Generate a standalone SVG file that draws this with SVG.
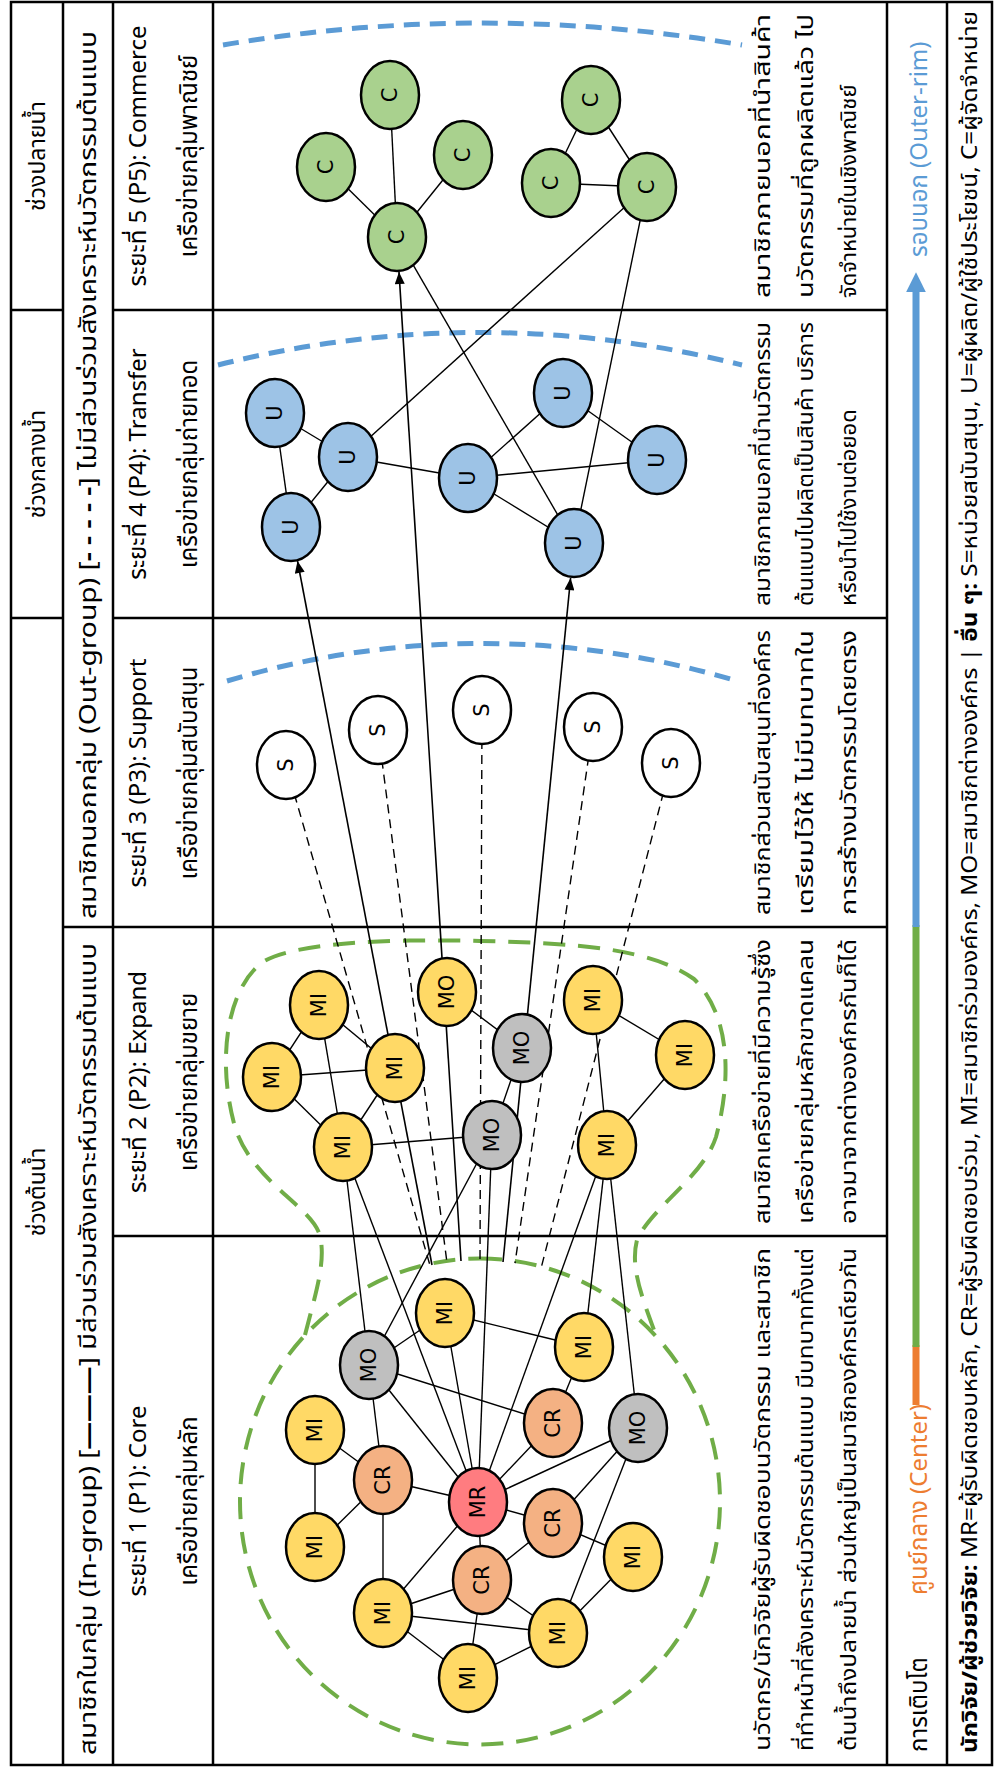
<svg xmlns="http://www.w3.org/2000/svg" width="994" height="1767" viewBox="0 0 994 1767">
<style>
.th{font-family:'Noto Sans Thai','Noto Sans Thai UI','Noto Serif Thai',Tahoma,'Leelawadee UI',Loma,Garuda,'DejaVu Sans',sans-serif;fill:#000}
.hd{font-size:23px}
.gr{font-size:24px}
.ttl{font-size:24px;text-anchor:middle}
.ds{font-size:22px}
.ft{font-size:22px}
.grid{stroke:#000;stroke-width:2.5;fill:none}
.e{stroke:#000;stroke-width:1.4;fill:none}
.ed{stroke:#000;stroke-width:1.4;fill:none;stroke-dasharray:9 6}
.ar{stroke:#000;stroke-width:1.6;fill:none;marker-end:url(#ah)}
.nd ellipse{stroke:#000;stroke-width:2.5}
.nd text{font-family:'DejaVu Sans','Liberation Sans',sans-serif;font-size:21px;text-anchor:middle;dominant-baseline:central;fill:#000}
.mi{fill:#FFD966}.mo{fill:#BFBFBF}.cr{fill:#F4B183}.mr{fill:#FF7C80}.c{fill:#A9D18E}.u{fill:#9DC3E6}.s{fill:#FFFFFF}
.gd{stroke:#70AD47;stroke-width:4;fill:none;stroke-dasharray:22 13}
.bd{stroke:#5B9BD5;stroke-width:5;fill:none;stroke-dasharray:16 10}
</style>
<defs>
<marker id="ah" viewBox="0 0 12 10" refX="12" refY="5" markerWidth="14" markerHeight="10" markerUnits="userSpaceOnUse" orient="auto"><path d="M0,0 L12,5 L0,10 z" fill="#000"/></marker>
<marker id="bah" viewBox="0 0 12 12" refX="2" refY="6" markerWidth="20" markerHeight="20" markerUnits="userSpaceOnUse" orient="auto"><path d="M0,0 L12,6 L0,12 z" fill="#5B9BD5"/></marker>
</defs>
<rect width="994" height="1767" fill="#fff"/>
<g transform="translate(0,1767) rotate(-90)">
<g id="table">
<rect class="grid" x="2" y="11" width="1763" height="981"/>
<line class="grid" x1="2" y1="63" x2="1765" y2="63"/>
<line class="grid" x1="2" y1="113" x2="1765" y2="113"/>
<line class="grid" x1="2" y1="213" x2="1765" y2="213"/>
<line class="grid" x1="2" y1="887" x2="1765" y2="887"/>
<line class="grid" x1="2" y1="947" x2="1765" y2="947"/>
<line class="grid" x1="1457" y1="11" x2="1457" y2="63"/>
<line class="grid" x1="1149" y1="11" x2="1149" y2="63"/>
<line class="grid" x1="840" y1="63" x2="840" y2="113"/>
<line class="grid" x1="1457" y1="113" x2="1457" y2="887"/>
<line class="grid" x1="1149" y1="113" x2="1149" y2="887"/>
<line class="grid" x1="840" y1="113" x2="840" y2="887"/>
<line class="grid" x1="531" y1="113" x2="531" y2="887"/>
</g>
<g id="headers">
<text class="th hd" x="575" y="45" text-anchor="middle">ช่วงต้นน้ำ</text>
<text class="th hd" x="1303" y="45" text-anchor="middle">ช่วงกลางน้ำ</text>
<text class="th hd" x="1611" y="45" text-anchor="middle">ช่วงปลายน้ำ</text>
<text class="th hd" x="12" y="96" textLength="812" lengthAdjust="spacingAndGlyphs">สมาชิกในกลุ่ม (In-group) [<tspan font-weight="bold">———</tspan>] มีส่วนร่วมสังเคราะห์นวัตกรรมต้นแบบ</text>
<text class="th hd" x="848" y="96" textLength="888" lengthAdjust="spacingAndGlyphs">สมาชิกนอกกลุ่ม (Out-group) [<tspan font-weight="bold">- - - - -</tspan>] ไม่มีส่วนร่วมสังเคราะห์นวัตกรรมต้นแบบ</text>
</g>
<g id="titles">
<text class="th ttl" x="266" y="146">ระยะที่ 1 (P1): Core</text>
<text class="th ttl" x="266" y="197">เครือข่ายกลุ่มหลัก</text>
<text class="th ttl" x="685" y="146">ระยะที่ 2 (P2): Expand</text>
<text class="th ttl" x="685" y="197">เครือข่ายกลุ่มขยาย</text>
<text class="th ttl" x="994" y="146">ระยะที่ 3 (P3): Support</text>
<text class="th ttl" x="994" y="197">เครือข่ายกลุ่มสนับสนุน</text>
<text class="th ttl" x="1303" y="146">ระยะที่ 4 (P4): Transfer</text>
<text class="th ttl" x="1303" y="197">เครือข่ายกลุ่มถ่ายทอด</text>
<text class="th ttl" x="1611" y="146">ระยะที่ 5 (P5): Commerce</text>
<text class="th ttl" x="1611" y="197">เครือข่ายกลุ่มพาณิชย์</text>
</g>
<g id="descriptions">
<text class="th ds" x="16" y="770" textLength="503" lengthAdjust="spacingAndGlyphs">นวัตกร/นักวิจัยผู้รับผิดชอบนวัตกรรม และสมาชิก</text>
<text class="th ds" x="16" y="813" textLength="503" lengthAdjust="spacingAndGlyphs">ที่ทำหน้าที่สังเคราะห์นวัตกรรมต้นแบบ มีบทบาททั้งแต่</text>
<text class="th ds" x="16" y="856" textLength="503" lengthAdjust="spacingAndGlyphs">ต้นน้ำถึงปลายน้ำ ส่วนใหญ่เป็นสมาชิกองค์กรเดียวกัน</text>
<text class="th ds" x="543" y="770" textLength="285" lengthAdjust="spacingAndGlyphs">สมาชิกเครือข่ายที่มีความรู้ซึ่ง</text>
<text class="th ds" x="543" y="813" textLength="285" lengthAdjust="spacingAndGlyphs">เครือข่ายกลุ่มหลักขาดแคลน</text>
<text class="th ds" x="543" y="856" textLength="285" lengthAdjust="spacingAndGlyphs">อาจมาจากต่างองค์กรกันก็ได้</text>
<text class="th ds" x="852" y="770" textLength="285" lengthAdjust="spacingAndGlyphs">สมาชิกส่วนสนับสนุนที่องค์กร</text>
<text class="th ds" x="852" y="813" textLength="285" lengthAdjust="spacingAndGlyphs">เตรียมไว้ให้ ไม่มีบทบาทใน</text>
<text class="th ds" x="852" y="856" textLength="285" lengthAdjust="spacingAndGlyphs">การสร้างนวัตกรรมโดยตรง</text>
<text class="th ds" x="1161" y="770" textLength="284" lengthAdjust="spacingAndGlyphs">สมาชิกภายนอกที่นำนวัตกรรม</text>
<text class="th ds" x="1161" y="813" textLength="284" lengthAdjust="spacingAndGlyphs">ต้นแบบไปผลิตเป็นสินค้า บริการ</text>
<text class="th ds" x="1161" y="856">หรือนำไปใช้งานต่อยอด</text>
<text class="th ds" x="1469" y="770" textLength="284" lengthAdjust="spacingAndGlyphs">สมาชิกภายนอกที่นำสินค้า</text>
<text class="th ds" x="1469" y="813" textLength="284" lengthAdjust="spacingAndGlyphs">นวัตกรรมที่ถูกผลิตแล้ว ไป</text>
<text class="th ds" x="1469" y="856">จัดจำหน่ายในเชิงพาณิชย์</text>
</g>
<g id="growth">
<text class="th gr" x="15" y="927">การเติบโต</text>
<text class="th gr" x="172" y="927" style="fill:#ED7D31">ศูนย์กลาง (Center)</text>
<line x1="362" y1="916" x2="422" y2="916" stroke="#ED7D31" stroke-width="7"/>
<line x1="420" y1="916" x2="842" y2="916" stroke="#70AD47" stroke-width="7"/>
<line x1="840" y1="916" x2="1478" y2="916" stroke="#5B9BD5" stroke-width="7" marker-end="url(#bah)"/>
<text class="th gr" x="1510" y="927" style="fill:#5B9BD5">รอบนอก (Outer-rim)</text>
</g>
<g id="footer">
<text class="th ft" x="14" y="977" textLength="1742" lengthAdjust="spacingAndGlyphs"><tspan font-weight="bold">นักวิจัย/ผู้ช่วยวิจัย:</tspan> MR=ผู้รับผิดชอบหลัก, CR=ผู้รับผิดชอบร่วม, MI=สมาชิกร่วมองค์กร, MO=สมาชิกต่างองค์กร | <tspan font-weight="bold">อื่น ๆ:</tspan> S=หน่วยสนับสนุน, U=ผู้ผลิต/ผู้ใช้ประโยชน์, C=ผู้จัดจำหน่าย</text>
</g>
<g id="boundaries">
<ellipse class="gd" cx="265.5" cy="480" rx="243" ry="240"/>
<path class="gd" d="M 432,305 C 475,316 505,326 531,320 C 560,313 585,252 640,235 C 700,218 772,224 803,260 C 826,290 828,400 826,480 C 824,580 818,652 788,694 C 752,730 690,732 630,716 C 590,703 560,652 527,637 C 500,630 470,642 437,654"/>
<path class="bd" d="M 1086,227 A 886 886 0 0 1 1086,737"/>
<path class="bd" d="M 1402,218 A 1072 1072 0 0 1 1402,742"/>
<path class="bd" d="M 1722,223 A 1547 1547 0 0 1 1722,742"/>
</g>
<g id="connectors">
<line class="e" x1="1530" y1="397" x2="1600" y2="326"/>
<line class="e" x1="1530" y1="397" x2="1672" y2="390"/>
<line class="e" x1="1530" y1="397" x2="1612" y2="463"/>
<line class="e" x1="1667" y1="591" x2="1584" y2="551"/>
<line class="e" x1="1667" y1="591" x2="1580" y2="647"/>
<line class="e" x1="1584" y1="551" x2="1580" y2="647"/>
<line class="e" x1="1530" y1="397" x2="1224" y2="574"/>
<line class="e" x1="1580" y1="647" x2="1224" y2="574"/>
<line class="e" x1="1580" y1="647" x2="1310" y2="348"/>
<line class="e" x1="1354" y1="275" x2="1310" y2="348"/>
<line class="e" x1="1354" y1="275" x2="1240" y2="291"/>
<line class="e" x1="1310" y1="348" x2="1240" y2="291"/>
<line class="e" x1="1310" y1="348" x2="1289" y2="468"/>
<line class="e" x1="1289" y1="468" x2="1374" y2="563"/>
<line class="e" x1="1289" y1="468" x2="1307" y2="657"/>
<line class="e" x1="1289" y1="468" x2="1224" y2="574"/>
<line class="e" x1="1374" y1="563" x2="1307" y2="657"/>
<line class="ar" x1="502" y1="432" x2="1206" y2="297.5"/>
<line class="ar" x1="506" y1="461" x2="1495" y2="399"/>
<line class="ar" x1="505" y1="503" x2="1189" y2="570.6"/>
<line class="ed" x1="1002" y1="286" x2="501.6" y2="430"/>
<line class="ed" x1="1037" y1="378" x2="504.2" y2="447"/>
<line class="ed" x1="1057" y1="482" x2="506.5" y2="480"/>
<line class="ed" x1="1040" y1="593" x2="503.8" y2="515"/>
<line class="ed" x1="1004" y1="671" x2="498.5" y2="541"/>
<line class="e" x1="762" y1="319" x2="690" y2="272"/>
<line class="e" x1="762" y1="319" x2="699" y2="395"/>
<line class="e" x1="762" y1="319" x2="620" y2="343"/>
<line class="e" x1="690" y1="272" x2="699" y2="395"/>
<line class="e" x1="690" y1="272" x2="620" y2="343"/>
<line class="e" x1="699" y1="395" x2="620" y2="343"/>
<line class="e" x1="620" y1="343" x2="632" y2="492"/>
<line class="e" x1="775" y1="447" x2="719" y2="522"/>
<line class="e" x1="719" y1="522" x2="632" y2="492"/>
<line class="e" x1="767" y1="593" x2="712" y2="685"/>
<line class="e" x1="712" y1="685" x2="622" y2="607"/>
<line class="e" x1="767" y1="593" x2="622" y2="607"/>
<line class="e" x1="620" y1="343" x2="402" y2="369"/>
<line class="e" x1="620" y1="343" x2="265" y2="478"/>
<line class="e" x1="632" y1="492" x2="402" y2="369"/>
<line class="e" x1="632" y1="492" x2="265" y2="478"/>
<line class="e" x1="622" y1="607" x2="265" y2="478"/>
<line class="e" x1="622" y1="607" x2="420" y2="584"/>
<line class="e" x1="622" y1="607" x2="339" y2="638"/>
<line class="e" x1="337" y1="315" x2="287" y2="383"/>
<line class="e" x1="337" y1="315" x2="220" y2="315"/>
<line class="e" x1="220" y1="315" x2="287" y2="383"/>
<line class="e" x1="287" y1="383" x2="265" y2="478"/>
<line class="e" x1="287" y1="383" x2="402" y2="369"/>
<line class="e" x1="287" y1="383" x2="154" y2="383"/>
<line class="e" x1="402" y1="369" x2="265" y2="478"/>
<line class="e" x1="402" y1="369" x2="344" y2="553"/>
<line class="e" x1="402" y1="369" x2="454" y2="445"/>
<line class="e" x1="265" y1="478" x2="244" y2="553"/>
<line class="e" x1="265" y1="478" x2="187" y2="482"/>
<line class="e" x1="265" y1="478" x2="339" y2="638"/>
<line class="e" x1="265" y1="478" x2="154" y2="383"/>
<line class="e" x1="265" y1="478" x2="454" y2="445"/>
<line class="e" x1="344" y1="553" x2="420" y2="584"/>
<line class="e" x1="344" y1="553" x2="265" y2="478"/>
<line class="e" x1="454" y1="445" x2="420" y2="584"/>
<line class="e" x1="244" y1="553" x2="339" y2="638"/>
<line class="e" x1="244" y1="553" x2="210" y2="633"/>
<line class="e" x1="244" y1="553" x2="187" y2="482"/>
<line class="e" x1="339" y1="638" x2="134" y2="558"/>
<line class="e" x1="210" y1="633" x2="134" y2="558"/>
<line class="e" x1="154" y1="383" x2="134" y2="558"/>
<line class="e" x1="154" y1="383" x2="187" y2="482"/>
<line class="e" x1="154" y1="383" x2="89" y2="468"/>
<line class="e" x1="187" y1="482" x2="89" y2="468"/>
<line class="e" x1="187" y1="482" x2="134" y2="558"/>
<line class="e" x1="89" y1="468" x2="134" y2="558"/>
</g>
<g id="p5-c1" class="nd"><ellipse class="c" cx="1600" cy="326" rx="34" ry="29"/><text x="1600" y="326">C</text></g>
<g id="p5-c2" class="nd"><ellipse class="c" cx="1672" cy="390" rx="34" ry="29"/><text x="1672" y="390">C</text></g>
<g id="p5-c3" class="nd"><ellipse class="c" cx="1612" cy="463" rx="34" ry="29"/><text x="1612" y="463">C</text></g>
<g id="p5-c4" class="nd"><ellipse class="c" cx="1530" cy="397" rx="34" ry="29"/><text x="1530" y="397">C</text></g>
<g id="p5-c5" class="nd"><ellipse class="c" cx="1667" cy="591" rx="34" ry="29"/><text x="1667" y="591">C</text></g>
<g id="p5-c6" class="nd"><ellipse class="c" cx="1584" cy="551" rx="34" ry="29"/><text x="1584" y="551">C</text></g>
<g id="p5-c7" class="nd"><ellipse class="c" cx="1580" cy="647" rx="34" ry="29"/><text x="1580" y="647">C</text></g>
<g id="p4-u1" class="nd"><ellipse class="u" cx="1354" cy="275" rx="34" ry="29"/><text x="1354" y="275">U</text></g>
<g id="p4-u2" class="nd"><ellipse class="u" cx="1310" cy="348" rx="34" ry="29"/><text x="1310" y="348">U</text></g>
<g id="p4-u3" class="nd"><ellipse class="u" cx="1240" cy="291" rx="34" ry="29"/><text x="1240" y="291">U</text></g>
<g id="p4-u4" class="nd"><ellipse class="u" cx="1289" cy="468" rx="34" ry="29"/><text x="1289" y="468">U</text></g>
<g id="p4-u5" class="nd"><ellipse class="u" cx="1374" cy="563" rx="34" ry="29"/><text x="1374" y="563">U</text></g>
<g id="p4-u6" class="nd"><ellipse class="u" cx="1307" cy="657" rx="34" ry="29"/><text x="1307" y="657">U</text></g>
<g id="p4-u7" class="nd"><ellipse class="u" cx="1224" cy="574" rx="34" ry="29"/><text x="1224" y="574">U</text></g>
<g id="p3-s1" class="nd"><ellipse class="s" cx="1002" cy="286" rx="34" ry="29"/><text x="1002" y="286">S</text></g>
<g id="p3-s2" class="nd"><ellipse class="s" cx="1037" cy="378" rx="34" ry="29"/><text x="1037" y="378">S</text></g>
<g id="p3-s3" class="nd"><ellipse class="s" cx="1057" cy="482" rx="34" ry="29"/><text x="1057" y="482">S</text></g>
<g id="p3-s4" class="nd"><ellipse class="s" cx="1040" cy="593" rx="34" ry="29"/><text x="1040" y="593">S</text></g>
<g id="p3-s5" class="nd"><ellipse class="s" cx="1004" cy="671" rx="34" ry="29"/><text x="1004" y="671">S</text></g>
<g id="p2-mi-a" class="nd"><ellipse class="mi" cx="762" cy="319" rx="34" ry="29"/><text x="762" y="319">MI</text></g>
<g id="p2-mi-b" class="nd"><ellipse class="mi" cx="690" cy="272" rx="34" ry="29"/><text x="690" y="272">MI</text></g>
<g id="p2-mi-c" class="nd"><ellipse class="mi" cx="699" cy="395" rx="34" ry="29"/><text x="699" y="395">MI</text></g>
<g id="p2-mi-d" class="nd"><ellipse class="mi" cx="620" cy="343" rx="34" ry="29"/><text x="620" y="343">MI</text></g>
<g id="p2-mo-e" class="nd"><ellipse class="mi" cx="775" cy="447" rx="34" ry="29"/><text x="775" y="447">MO</text></g>
<g id="p2-mo-f" class="nd"><ellipse class="mo" cx="719" cy="522" rx="34" ry="29"/><text x="719" y="522">MO</text></g>
<g id="p2-mo-g" class="nd"><ellipse class="mo" cx="632" cy="492" rx="34" ry="29"/><text x="632" y="492">MO</text></g>
<g id="p2-mi-h" class="nd"><ellipse class="mi" cx="767" cy="593" rx="34" ry="29"/><text x="767" y="593">MI</text></g>
<g id="p2-mi-i" class="nd"><ellipse class="mi" cx="712" cy="685" rx="34" ry="29"/><text x="712" y="685">MI</text></g>
<g id="p2-mi-j" class="nd"><ellipse class="mi" cx="622" cy="607" rx="34" ry="29"/><text x="622" y="607">MI</text></g>
<g id="p1-mo-1" class="nd"><ellipse class="mo" cx="402" cy="369" rx="34" ry="29"/><text x="402" y="369">MO</text></g>
<g id="p1-mi-top" class="nd"><ellipse class="mi" cx="454" cy="445" rx="34" ry="29"/><text x="454" y="445">MI</text></g>
<g id="p1-mi-r" class="nd"><ellipse class="mi" cx="420" cy="584" rx="34" ry="29"/><text x="420" y="584">MI</text></g>
<g id="p1-mi-1" class="nd"><ellipse class="mi" cx="337" cy="315" rx="34" ry="29"/><text x="337" y="315">MI</text></g>
<g id="p1-cr-1" class="nd"><ellipse class="cr" cx="287" cy="383" rx="34" ry="29"/><text x="287" y="383">CR</text></g>
<g id="p1-cr-2" class="nd"><ellipse class="cr" cx="344" cy="553" rx="34" ry="29"/><text x="344" y="553">CR</text></g>
<g id="p1-mo-2" class="nd"><ellipse class="mo" cx="339" cy="638" rx="34" ry="29"/><text x="339" y="638">MO</text></g>
<g id="p1-mr" class="nd"><ellipse class="mr" cx="265" cy="478" rx="34" ry="29"/><text x="265" y="478">MR</text></g>
<g id="p1-mi-2" class="nd"><ellipse class="mi" cx="220" cy="315" rx="34" ry="29"/><text x="220" y="315">MI</text></g>
<g id="p1-cr-3" class="nd"><ellipse class="cr" cx="244" cy="553" rx="34" ry="29"/><text x="244" y="553">CR</text></g>
<g id="p1-cr-4" class="nd"><ellipse class="cr" cx="187" cy="482" rx="34" ry="29"/><text x="187" y="482">CR</text></g>
<g id="p1-mi-3" class="nd"><ellipse class="mi" cx="210" cy="633" rx="34" ry="29"/><text x="210" y="633">MI</text></g>
<g id="p1-mi-4" class="nd"><ellipse class="mi" cx="154" cy="383" rx="34" ry="29"/><text x="154" y="383">MI</text></g>
<g id="p1-mi-5" class="nd"><ellipse class="mi" cx="134" cy="558" rx="34" ry="29"/><text x="134" y="558">MI</text></g>
<g id="p1-mi-6" class="nd"><ellipse class="mi" cx="89" cy="468" rx="34" ry="29"/><text x="89" y="468">MI</text></g>
</g>
</svg>
